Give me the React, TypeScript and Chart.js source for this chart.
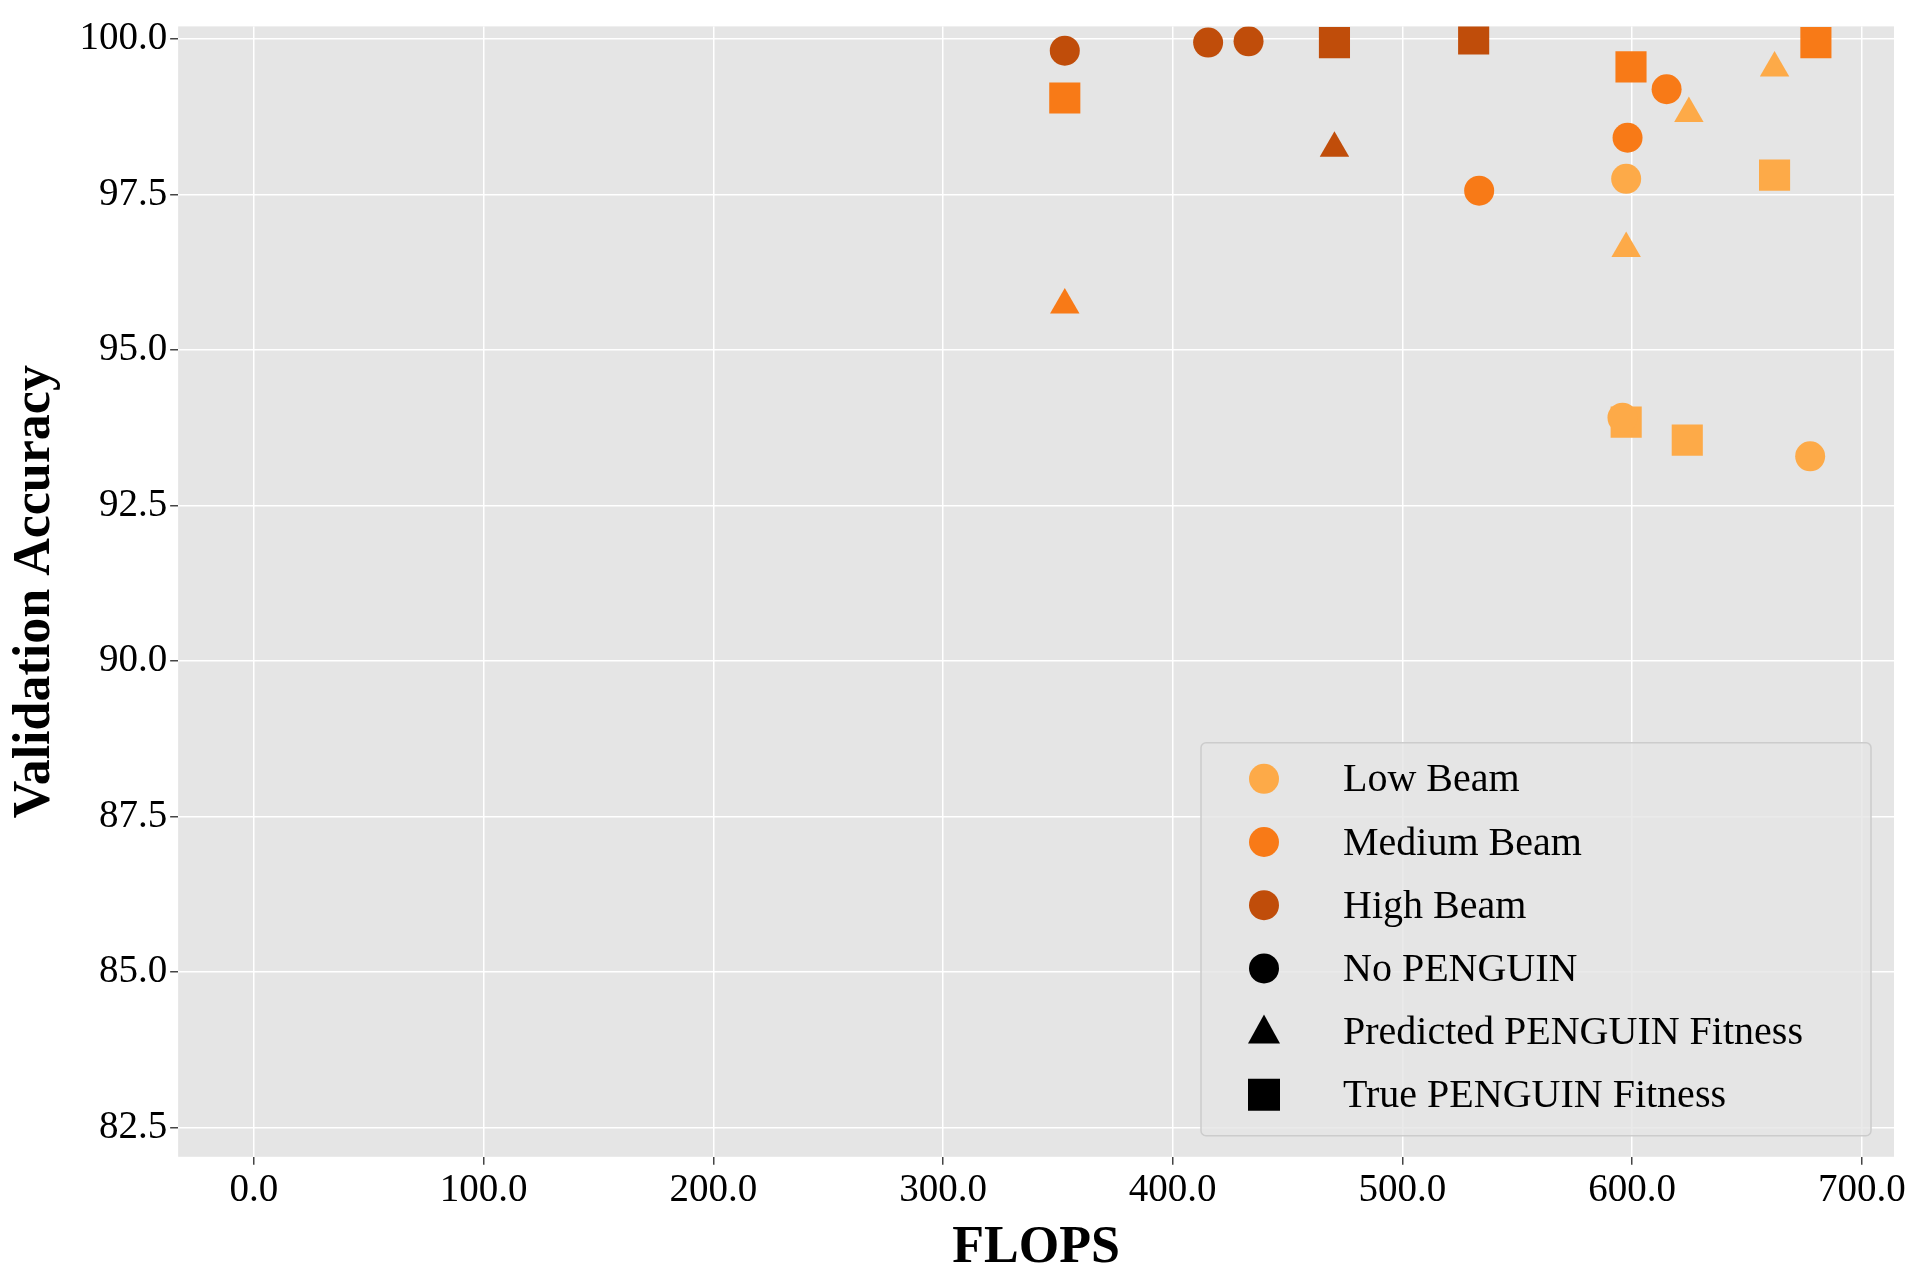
import { useEffect, useRef } from "react";
import { Chart, registerables } from "chart.js";

Chart.register(...registerables);

const LOW = "#fdaa48";
const MED = "#f87a17";
const HIGH = "#c04d0a";

// [flops, accuracy]
const lowNone = [[597.4, 97.75], [595.8, 93.91], [677.5, 93.29]];
const lowPred = [[597.4, 96.63], [624.7, 98.8], [662, 99.53]];
const lowTrue = [[597.4, 93.84], [624, 93.55], [662, 97.81]];
const medNone = [[598, 98.41], [533.4, 97.56], [615, 99.19]];
const medPred = [[353, 95.72]];
const medTrue = [[353, 99.05], [599.5, 99.55], [680, 99.94]];
const highNone = [[353, 99.81], [415.4, 99.94], [433, 99.96]];
const highPred = [[470.4, 98.24]];
const highTrue = [[470.4, 99.94], [531, 100.0]];

const xTicks = [0, 100, 200, 300, 400, 500, 600, 700];
const yTicks = [82.5, 85, 87.5, 90, 92.5, 95, 97.5, 100];

const legendLabels = ["Low Beam", "Medium Beam", "High Beam", "No PENGUIN", "Predicted PENGUIN Fitness", "True PENGUIN Fitness"];
const legendColors = [LOW, MED, HIGH, "#000", "#000", "#000"];
const legendShapes = ["circle", "circle", "circle", "circle", "triangle", "rect"];

const FONT = "'Liberation Serif', 'DejaVu Serif', serif";

const ds = (pts: number[][], color: string, shape: string) => ({
  data: pts.map(([x, y]) => ({ x, y })),
  backgroundColor: color,
  borderColor: color,
  borderWidth: 0,
  pointStyle: shape,
  pointRadius: shape === "circle" ? 15 : shape === "rect" ? 22 : 17,
});

const bgPlugin = {
  id: "bg",
  beforeDraw(chart: any) {
    const { ctx, chartArea: a } = chart;
    ctx.save();
    ctx.fillStyle = "#e5e5e5";
    ctx.fillRect(a.left, a.top, a.width, a.height);
    ctx.restore();
  },
};

const legendPlugin = {
  id: "boxLegend",
  afterDraw(chart: any) {
    const { ctx, chartArea: a } = chart;
    const w = 670, h = 393;
    const x0 = a.right - w - 23, y0 = a.bottom - h - 21;
    ctx.save();
    ctx.fillStyle = "rgba(229,229,229,0.8)";
    ctx.strokeStyle = "#cccccc";
    ctx.lineWidth = 1.5;
    ctx.beginPath();
    ctx.roundRect(x0, y0, w, h, 5);
    ctx.fill();
    ctx.stroke();
    ctx.font = `40px ${FONT}`;
    ctx.textBaseline = "middle";
    legendLabels.forEach((t, i) => {
      const y = y0 + 36 + i * 63.2;
      const mx = x0 + 63;
      ctx.fillStyle = legendColors[i];
      const s = legendShapes[i];
      ctx.beginPath();
      if (s === "circle") ctx.arc(mx, y, 15, 0, Math.PI * 2);
      else if (s === "rect") ctx.rect(mx - 16, y - 16, 32, 32);
      else {
        ctx.moveTo(mx, y - 17);
        ctx.lineTo(mx + 16, y + 12);
        ctx.lineTo(mx - 16, y + 12);
        ctx.closePath();
      }
      ctx.fill();
      ctx.fillStyle = "#000";
      ctx.fillText(t, x0 + 142, y + 2);
    });
    ctx.restore();
  },
};

export default function App() {
  const ref = useRef<HTMLCanvasElement>(null);
  useEffect(() => {
    if (!ref.current) return;
    const chart = new Chart(ref.current, {
      type: "scatter",
      data: {
        datasets: [
          ds(lowNone, LOW, "circle"), ds(lowPred, LOW, "triangle"), ds(lowTrue, LOW, "rect"),
          ds(medNone, MED, "circle"), ds(medPred, MED, "triangle"), ds(medTrue, MED, "rect"),
          ds(highNone, HIGH, "circle"), ds(highPred, HIGH, "triangle"), ds(highTrue, HIGH, "rect"),
        ] as any,
      },
      plugins: [bgPlugin, legendPlugin],
      options: {
        animation: false,
        responsive: false,
        layout: { padding: { top: -12, right: 26, left: 0, bottom: 0 } },
        plugins: { legend: { display: false }, tooltip: { enabled: false } },
        scales: {
          x: {
            min: -33,
            max: 714,
            afterBuildTicks: (s: any) => {
              s.ticks = xTicks.map((v) => ({ value: v }));
            },
            grid: { color: "#ffffff", lineWidth: 1.5, tickLength: 8, tickColor: "#444" },
            border: { display: false },
            ticks: { color: "#000", font: { family: FONT, size: 39 }, callback: (v: any) => Number(v).toFixed(1) },
            title: { display: true, text: "FLOPS", color: "#000", font: { family: FONT, size: 52, weight: "bold" }, padding: { top: 0, bottom: 0 } },
          },
          y: {
            min: 82.03,
            max: 100.2,
            afterBuildTicks: (s: any) => {
              s.ticks = yTicks.map((v) => ({ value: v }));
            },
            grid: { color: "#ffffff", lineWidth: 1.5, tickLength: 8, tickColor: "#444" },
            border: { display: false },
            ticks: { color: "#000", font: { family: FONT, size: 39 }, callback: (v: any) => Number(v).toFixed(1) },
            title: { display: true, text: "Validation Accuracy", color: "#000", font: { family: FONT, size: 52, weight: "bold" }, padding: { bottom: 10 } },
          },
        },
      },
    });
    return () => chart.destroy();
  }, []);
  return (
    <div style={{ position: "absolute", left: 0, top: 0, width: 1920, height: 1280, background: "#fff" }}>
      <canvas ref={ref} width={1920} height={1280} />
    </div>
  );
}
